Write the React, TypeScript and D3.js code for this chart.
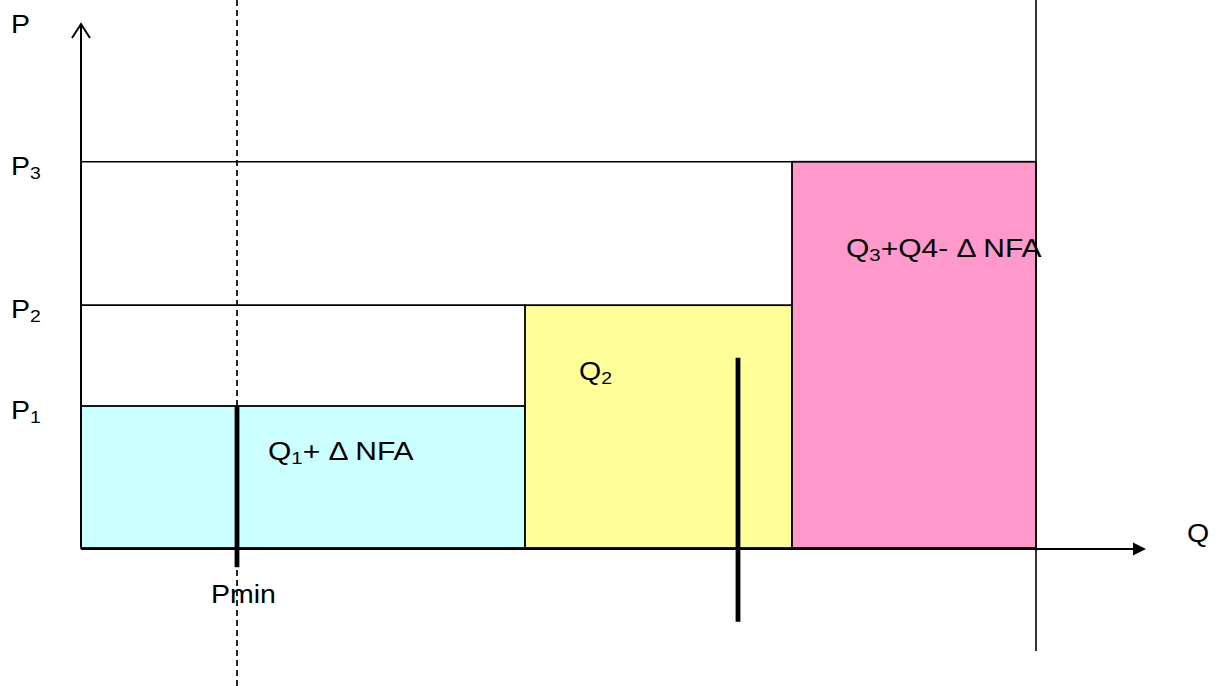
import React from "react";
import * as d3 from "d3";

// Price levels (arbitrary units) and quantity breakpoints
const priceLevels = [1.0, 1.71, 2.72];
const priceLabels = ["P1", "P2", "P3"];
const qBreaks = [0, 4.44, 7.11, 9.55];
const blockLabels = ["Q1+ Δ NFA", "Q2", "Q3+Q4- Δ NFA"];
const blockColors = ["#CCFFFF", "#FFFF99", "#FF99CC"];
const pminQ = 1.56;
const markQ = 6.57;

const W = 1220;
const H = 686;

const x = d3.scaleLinear().domain([0, 10.65]).range([81, 1146]);
const y = d3.scaleLinear().domain([0, 3.69]).range([548, 24]);

const FONT = "'Liberation Sans', Arial, sans-serif";
const FS = 25;
const SX = 1.14;

function Label({ x0, y0, main, sub, rest, sx = SX }: { x0: number; y0: number; main: string; sub?: string; rest?: string; sx?: number }) {
  return (
    <text
      transform={`translate(${x0},${y0}) scale(${sx},1)`}
      fontFamily={FONT}
      fontSize={FS}
      fill="#000"
    >
      <tspan>{main}</tspan>
      {sub ? (
        <tspan fontSize={FS * 0.68} dy={4}>
          {sub}
        </tspan>
      ) : null}
      {rest ? <tspan dy={sub ? -4 : 0}>{rest}</tspan> : null}
    </text>
  );
}

export default function App() {
  const x0 = x(0);
  const yBase = y(0);
  const blocks = qBreaks.slice(0, -1).map((q, i) => ({
    x: x(q),
    w: x(qBreaks[i + 1]) - x(q),
    top: y(priceLevels[i]),
    color: blockColors[i],
  }));
  return (
    <svg
      width={W}
      height={H}
      style={{ position: "absolute", left: 0, top: 0, display: "block", background: "#fff" }}
    >
      {priceLevels.map((p, i) => (
        <line
          key={"h" + i}
          x1={x0}
          x2={x(qBreaks[i])}
          y1={y(p)}
          y2={y(p)}
          stroke="#000"
          strokeWidth={1.6}
        />
      ))}
      {blocks.map((b, i) => (
        <rect
          key={"b" + i}
          x={b.x}
          y={b.top}
          width={b.w}
          height={yBase - b.top}
          fill={b.color}
          stroke="#000"
          strokeWidth={1.8}
        />
      ))}
      <line x1={x(pminQ)} x2={x(pminQ)} y1={0} y2={H} stroke="#000" strokeWidth={1.7} strokeDasharray="6,4" />
      <line x1={x(pminQ)} x2={x(pminQ)} y1={y(priceLevels[0])} y2={y(-0.135)} stroke="#000" strokeWidth={4.8} />
      <line x1={x(markQ)} x2={x(markQ)} y1={y(1.34)} y2={y(-0.52)} stroke="#000" strokeWidth={4.8} />
      <line x1={x(qBreaks[3])} x2={x(qBreaks[3])} y1={0} y2={y(-0.725)} stroke="#000" strokeWidth={1.6} />
      <line x1={x0} x2={x0} y1={yBase} y2={y(3.69)} stroke="#000" strokeWidth={2} />
      <polyline
        points={`${x0 - 9},${y(3.69) + 14} ${x0},${y(3.69)} ${x0 + 9},${y(3.69) + 14}`}
        fill="none"
        stroke="#000"
        strokeWidth={2}
      />
      <line x1={x0} x2={x(10.52)} y1={yBase + 1} y2={yBase + 1} stroke="#000" strokeWidth={2} />
      <polygon
        points={`${x(10.52)},${yBase + 1 - 6.5} ${x(10.65)},${yBase + 1} ${x(10.52)},${yBase + 1 + 6.5}`}
        fill="#000"
      />
      <Label x0={11} y0={33} main="P" />
      <Label x0={1187} y0={542} main="Q" />
      {priceLabels.map((lab, i) => (
        <Label key={lab} x0={11} y0={y(priceLevels[i]) + 13} main="P" sub={lab.slice(1)} />
      ))}
      <Label x0={211} y0={603} main="Pmin" />
      <Label x0={268} y0={460} main="Q" sub="1" rest="+ Δ NFA" sx={1.2} />
      <Label x0={579} y0={380} main="Q" sub="2" />
      <Label x0={846} y0={257} main="Q" sub="3" rest="+Q4- Δ NFA" sx={1.2} />
      <desc>{blockLabels.join(" | ")}</desc>
    </svg>
  );
}
